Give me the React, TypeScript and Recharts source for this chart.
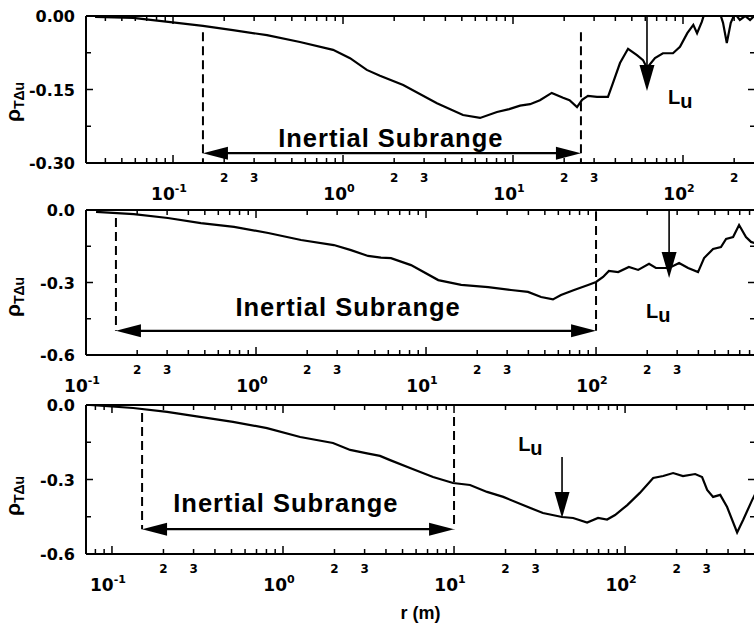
import React from 'react';
import { LineChart, Line, XAxis, YAxis, ReferenceLine, ReferenceDot } from 'recharts';

// Top panel: separation r (m) and correlation rho_TΔu
const r1 = [
	0.0348, 0.0582, 0.1056, 0.15, 0.225, 0.357, 0.558, 0.874, 1.1, 1.38, 1.65, 2.26, 3.57, 5.08,
	6.4, 8.05, 9.5, 11.0, 12.6, 14.4, 16.9, 19.7, 21.5, 23.8, 25.5, 27.6, 31.2, 36.2, 38.7, 42.6, 47.5,
	53.6, 58.2, 61.4, 68.4, 76.2, 87.3, 96.0, 106, 115, 121, 129, 135, 154, 167, 172, 181, 191,
	202, 216, 232, 248, 262,
];
const rho1 = [
	-0.002, -0.004, -0.014, -0.02, -0.029, -0.039, -0.053, -0.069, -0.086, -0.11, -0.122, -0.141,
	-0.178, -0.202, -0.208, -0.196, -0.19, -0.183, -0.18, -0.172, -0.157, -0.167, -0.172, -0.186, -0.171,
	-0.163, -0.165, -0.165, -0.137, -0.096, -0.067, -0.08, -0.09, -0.106, -0.086, -0.076, -0.076,
	-0.063, -0.035, -0.018, -0.035, -0.012, 0.01, 0.02, 0.0, -0.014, -0.055, -0.014, 0.005, -0.008,
	0.0, -0.008, 0.0,
];

// Middle panel
const r2 = [
	0.1146, 0.191, 0.303, 0.474, 0.743, 1.18, 1.84, 2.87, 3.62, 4.56, 5.43, 6.22, 8.16, 11.8, 16.1,
	23.2, 31.6, 39.8, 47.5, 55.8, 62.2, 74.3, 89.8, 100, 110, 119, 135, 156, 177, 205, 225, 269, 308,
	348, 398, 432, 488, 543, 582, 640, 694, 762, 816, 861,
];
const rho2 = [
	-0.008, -0.017, -0.033, -0.054, -0.07, -0.095, -0.124, -0.145, -0.166, -0.19, -0.197, -0.199,
	-0.228, -0.29, -0.31, -0.319, -0.331, -0.339, -0.36, -0.37, -0.352, -0.331, -0.31, -0.298,
	-0.277, -0.252, -0.257, -0.236, -0.248, -0.223, -0.24, -0.24, -0.219, -0.24, -0.257, -0.199,
	-0.161, -0.153, -0.12, -0.112, -0.062, -0.112, -0.132, -0.137,
];

// Bottom panel
const r3 = [
	0.0744, 0.133, 0.21, 0.327, 0.51, 0.806, 1.26, 1.96, 2.47, 3.1, 3.69, 4.23, 5.53, 7.54, 9.87,
	12.4, 15.6, 19.4, 25.3, 33.1, 42.8, 49.7, 60.0, 69.5, 78.5, 87.4, 103, 122, 146, 167, 191, 218,
	257, 282, 302, 327, 360, 395, 452, 490, 553, 575,
];
const rho3 = [
	0.0, -0.012, -0.028, -0.048, -0.068, -0.093, -0.129, -0.153, -0.181, -0.195, -0.205, -0.222,
	-0.254, -0.29, -0.314, -0.322, -0.35, -0.37, -0.403, -0.435, -0.451, -0.455, -0.473, -0.455,
	-0.461, -0.443, -0.403, -0.354, -0.294, -0.286, -0.274, -0.286, -0.278, -0.29, -0.342, -0.37,
	-0.362, -0.411, -0.513, -0.463, -0.383, -0.36,
];

// Axis ticks
const DECADES = [-1, 0, 1, 2];
const LABELLED_MINORS = [2, 3];
const Y_TICKS_1 = [-0.3, -0.225, -0.15, -0.075, 0];
const Y_LABELS_1 = [-0.3, -0.15, 0];
const Y_TICKS_2 = [-0.6, -0.45, -0.3, -0.15, 0];
const Y_LABELS_2 = [-0.6, -0.3, 0];

const CHART_W = 770;
const MARGIN = { top: 16, right: 15, bottom: 0, left: 6 };
const Y_AXIS_W = 80;
const PLOT_W = CHART_W - MARGIN.left - MARGIN.right - Y_AXIS_W;
const NUM_FONT = '"DejaVu Sans", sans-serif';
const TEXT_FONT = '"Liberation Sans", Arial, sans-serif';

function logTicks(min: number, max: number) {
	const out: number[] = [];
	for (let e = -2; e <= 3; e++) {
		for (let m = 1; m <= 9; m++) {
			const v = m * Math.pow(10, e);
			if (v >= min * 0.9999 && v <= max * 1.0001) out.push(v);
		}
	}
	return out;
}

function makeXTick(plotH: number) {
	return (props: any) => {
		const { x, y, payload } = props;
		const v = payload.value as number;
		const e = Math.floor(Math.log10(v) + 1e-6);
		const m = Math.round(v / Math.pow(10, e));
		const len = m === 1 ? 8 : 5;
		return (
			<g>
				<line x1={x} x2={x} y1={y} y2={y - len} stroke="#000" strokeWidth={1.5} />
				<line x1={x} x2={x} y1={y - plotH} y2={y - plotH + len} stroke="#000" strokeWidth={1.5} />
				{m === 1 && DECADES.includes(e) && (
					<text x={x - 4} y={y + 37} textAnchor="middle" fontFamily={NUM_FONT} fontWeight="bold" fontSize={17} fill="#000">
						10
						<tspan fontSize={11} dy={-8}>
							{e}
						</tspan>
					</text>
				)}
				{LABELLED_MINORS.includes(m) && DECADES.includes(e) && (
					<text x={x} y={y + 19} textAnchor="middle" fontFamily={NUM_FONT} fontWeight="bold" fontSize={12} fill="#000">
						{m}
					</text>
				)}
			</g>
		);
	};
}

function makeYTick(labelled: number[], digits: number) {
	return (props: any) => {
		const { x, y, payload } = props;
		const v = payload.value as number;
		const isLab = labelled.some((l) => Math.abs(l - v) < 1e-9);
		const len = isLab ? 7 : 5;
		return (
			<g>
				<line x1={x} x2={x + len} y1={y} y2={y} stroke="#000" strokeWidth={1.5} />
				<line x1={x + PLOT_W} x2={x + PLOT_W - len} y1={y} y2={y} stroke="#000" strokeWidth={1.5} />
				{isLab && (
					<text x={x - 11} y={y + 6} textAnchor="end" fontFamily={NUM_FONT} fontWeight="bold" fontSize={16} fill="#000">
						{Math.abs(v) < 1e-9 ? (0).toFixed(digits) : v.toFixed(digits)}
					</text>
				)}
			</g>
		);
	};
}

const yLabel = (cy: number) => () => (
	<text transform={`rotate(-90, 20, ${cy})`} x={20} y={cy} textAnchor="middle" fontFamily={TEXT_FONT} fontWeight="bold" fill="#000">
		<tspan fontSize={21}>ρ</tspan>
		<tspan fontSize={14} dy={4}>
			TΔu
		</tspan>
	</text>
);

const xLabel = (text: string) => (props: any) => {
	const vb = props.viewBox;
	return (
		<text x={vb.x + vb.width / 2} y={vb.y + vb.height - 10} textAnchor="middle" fontFamily={TEXT_FONT} fontWeight="bold" fontSize={18} fill="#000">
			{text}
		</text>
	);
};

// double-headed horizontal arrow
const spanArrow = (p: any) => {
	const { x1, y1, x2, y2 } = p;
	const head = 25;
	const half = 6.5;
	return (
		<g>
			<line x1={x1 + head - 2} y1={y1} x2={x2 - head + 2} y2={y2} stroke="#000" strokeWidth={2.2} />
			<polygon points={`${x1},${y1} ${x1 + head},${y1 - half} ${x1 + head},${y1 + half}`} fill="#000" />
			<polygon points={`${x2},${y2} ${x2 - head},${y2 - half} ${x2 - head},${y2 + half}`} fill="#000" />
		</g>
	);
};

// downward arrow marking the integral scale
const downArrow = (p: any) => {
	const { x1, y1, x2, y2 } = p;
	const head = 26;
	return (
		<g>
			<line x1={x1} y1={y1} x2={x2} y2={y2 - head + 2} stroke="#000" strokeWidth={1.6} />
			<polygon points={`${x2},${y2} ${x2 - 7.5},${y2 - head} ${x2 + 7.5},${y2 - head}`} fill="#000" />
		</g>
	);
};

const subrangeText = (p: any) => (
	<text x={p.cx} y={p.cy} textAnchor="middle" fontFamily={TEXT_FONT} fontWeight="bold" fontSize={25.5} letterSpacing={1} fill="#000">
		Inertial Subrange
	</text>
);

const luText = (p: any) => (
	<text x={p.cx} y={p.cy} fontFamily={TEXT_FONT} fontWeight="bold" fontSize={20} fill="#000">
		L
		<tspan dy={4}>u</tspan>
	</text>
);

interface PanelProps {
	top: number;
	plotH: number;
	axisH: number;
	rs: number[];
	rhos: number[];
	xDomain: [number, number];
	yDomain: [number, number];
	yTicks: number[];
	yLabels: number[];
	digits: number;
	labelY: number;
	dashLeft: [number, number, number];
	dashRight: [number, number, number];
	spanY: number;
	textAt: [number, number];
	lu: [number, number, number];
	luAt: [number, number];
	xTitle?: string;
}

function Panel(p: PanelProps) {
	const data = p.rs.map((r, i) => ({ r, rho: p.rhos[i] }));
	const height = MARGIN.top + p.plotH + p.axisH;
	const dash = { stroke: '#000', strokeWidth: 2, strokeDasharray: '9 5' };
	return (
		<div style={{ position: 'absolute', left: 0, top: p.top }}>
			<LineChart width={CHART_W} height={height} data={data} margin={MARGIN}>
				<XAxis
					dataKey="r"
					type="number"
					scale="log"
					domain={p.xDomain}
					allowDataOverflow
					ticks={logTicks(p.xDomain[0], p.xDomain[1])}
					interval={0}
					tickSize={0}
					tickMargin={0}
					tickLine={false}
					tick={makeXTick(p.plotH)}
					height={p.axisH}
					axisLine={{ stroke: '#000', strokeWidth: 2 }}
					label={p.xTitle ? xLabel(p.xTitle) : undefined}
				/>
				<YAxis
					type="number"
					domain={p.yDomain}
					allowDataOverflow
					ticks={p.yTicks}
					interval={0}
					width={Y_AXIS_W}
					tickSize={0}
					tickMargin={0}
					tickLine={false}
					tick={makeYTick(p.yLabels, p.digits)}
					axisLine={{ stroke: '#000', strokeWidth: 2 }}
					label={yLabel(p.labelY)}
				/>
				<ReferenceLine y={p.yDomain[1]} stroke="#000" strokeWidth={2} />
				<ReferenceLine x={p.xDomain[1]} stroke="#000" strokeWidth={2} />
				<ReferenceLine segment={[{ x: p.dashLeft[0], y: p.dashLeft[1] }, { x: p.dashLeft[0], y: p.dashLeft[2] }]} {...dash} />
				<ReferenceLine segment={[{ x: p.dashRight[0], y: p.dashRight[1] }, { x: p.dashRight[0], y: p.dashRight[2] }]} {...dash} />
				<ReferenceLine segment={[{ x: p.dashLeft[0], y: p.spanY }, { x: p.dashRight[0], y: p.spanY }]} shape={spanArrow} />
				<ReferenceLine segment={[{ x: p.lu[0], y: p.lu[1] }, { x: p.lu[0], y: p.lu[2] }]} shape={downArrow} />
				<ReferenceDot x={p.textAt[0]} y={p.textAt[1]} r={0} shape={subrangeText} />
				<ReferenceDot x={p.luAt[0]} y={p.luAt[1]} r={0} shape={luText} />
				<Line dataKey="rho" type="linear" dot={false} stroke="#000" strokeWidth={2.2} isAnimationActive={false} />
			</LineChart>
		</div>
	);
}

export default function App() {
	return (
		<div style={{ position: 'absolute', left: 0, top: 0, width: 754, height: 630, overflow: 'hidden', background: '#fff' }}>
			<Panel
				top={0}
				plotH={147}
				axisH={45}
				rs={r1}
				rhos={rho1}
				xDomain={[0.03077, 265.2]}
				yDomain={[-0.3, 0]}
				yTicks={Y_TICKS_1}
				yLabels={Y_LABELS_1}
				digits={2}
				labelY={102}
				dashLeft={[0.15, -0.033, -0.3]}
				dashRight={[25.1, -0.033, -0.3]}
				spanY={-0.28}
				textAt={[1.91, -0.267]}
				lu={[61.4, 0, -0.153]}
				luAt={[81.7, -0.18]}
			/>
			<Panel
				top={194}
				plotH={145}
				axisH={45}
				rs={r2}
				rhos={rho2}
				xDomain={[0.1, 861]}
				yDomain={[-0.6, 0]}
				yTicks={Y_TICKS_2}
				yLabels={Y_LABELS_2}
				digits={1}
				labelY={103}
				dashLeft={[0.15, -0.033, -0.5]}
				dashRight={[100, -0.008, -0.5]}
				spanY={-0.5}
				textAt={[3.48, -0.439]}
				lu={[269, 0, -0.281]}
				luAt={[197, -0.447]}
			/>
			<Panel
				top={389}
				plotH={149}
				axisH={75}
				rs={r3}
				rhos={rho3}
				xDomain={[0.0705, 575]}
				yDomain={[-0.6, 0]}
				yTicks={Y_TICKS_2}
				yLabels={Y_LABELS_2}
				digits={1}
				labelY={107}
				dashLeft={[0.15, -0.032, -0.5]}
				dashRight={[10, -0.048, -0.5]}
				spanY={-0.5}
				textAt={[1.04, -0.431]}
				lu={[42.8, -0.209, -0.455]}
				luAt={[23.7, -0.185]}
				xTitle="r (m)"
			/>
		</div>
	);
}
